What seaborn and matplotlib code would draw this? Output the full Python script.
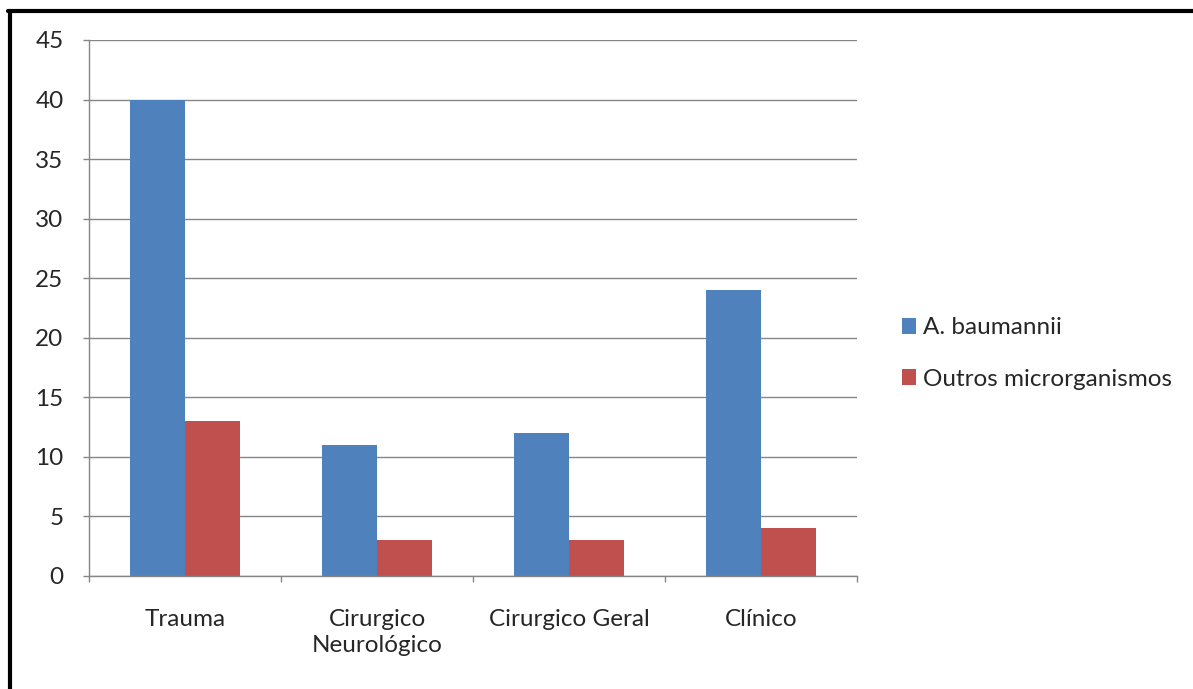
import matplotlib
matplotlib.use("Agg")
import matplotlib.pyplot as plt
import seaborn as sns
import pandas as pd
from matplotlib.lines import Line2D

categories = ["Trauma", "Cirurgico\nNeurológico", "Cirurgico Geral", "Clínico"]
series_names = ["A. baumannii", "Outros microrganismos"]
baumannii = [40, 11, 12, 24]
outros = [13, 3, 3, 4]
yticks = [0, 5, 10, 15, 20, 25, 30, 35, 40, 45]

df = pd.DataFrame({
    "cat": categories * 2,
    "serie": [series_names[0]] * 4 + [series_names[1]] * 4,
    "val": baumannii + outros,
})

sns.set_style("white")
plt.rcParams['font.family'] = ['Lato', 'DejaVu Sans']
FS = 17.5

fig = plt.figure(figsize=(11.93, 6.89), dpi=100)
ax = fig.add_axes([89/1193, 1-576/689, (857-89)/1193, (576-40)/689])

palette = {series_names[0]: "#4F81BD", series_names[1]: "#C0504D"}
sns.barplot(data=df, x="cat", y="val", hue="serie", palette=palette,
            width=0.57, gap=0, saturation=1, ax=ax, errorbar=None,
            edgecolor="none")

ax.set_xlim(-0.5, 3.5)
ax.set_ylim(0, 45)
ax.set_yticks(yticks)
ax.set_yticklabels([str(v) for v in yticks], fontsize=FS)
ax.yaxis.grid(True, color="#868686", linewidth=1)
ax.set_axisbelow(True)
ax.set_xlabel("")
ax.set_ylabel("")
ax.set_xticks(range(4))
ax.set_xticklabels(categories, fontsize=FS, linespacing=1.3)
ax.set_xticks([-0.5, 0.5, 1.5, 2.5, 3.5], minor=True)
ax.tick_params(axis="x", which="major", bottom=True, length=0, pad=24)
ax.tick_params(axis="x", which="minor", bottom=True, length=4.3, color="#868686", width=1, direction="out")
ax.tick_params(axis="y", left=True, length=4.3, color="#868686", width=1, direction="out", pad=14)
for s in ["top", "right"]:
    ax.spines[s].set_visible(False)
for s in ["left", "bottom"]:
    ax.spines[s].set_color("#868686")
    ax.spines[s].set_linewidth(1)

leg = ax.legend(loc="center left", bbox_to_anchor=(1.03, 0.415), frameon=False,
                fontsize=FS, handlelength=0.6, handleheight=0.6,
                handletextpad=0.25, labelspacing=1.25)

# outer border (top and left)
fig.add_artist(Line2D([9.5/1193, 9.5/1193], [0, 1-11/689], transform=fig.transFigure,
                      color="black", linewidth=3))
fig.add_artist(Line2D([8/1193, 1], [1-11/689, 1-11/689], transform=fig.transFigure,
                      color="black", linewidth=3))

fig.savefig("out.png", dpi=100)
